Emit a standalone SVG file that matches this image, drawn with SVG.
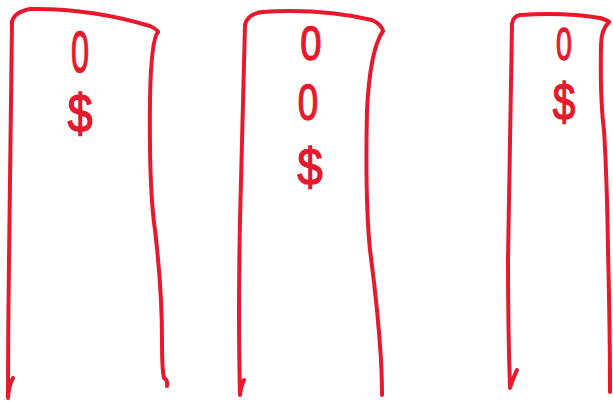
<svg xmlns="http://www.w3.org/2000/svg" width="613" height="412" viewBox="0 0 613 412">
<style>
.ln{fill:none;stroke:#e8192c;stroke-width:4;stroke-linecap:round;stroke-linejoin:round}
.t{fill:#e8192c;stroke:#e8192c;stroke-width:1.4;font-family:"Liberation Sans",Arial,sans-serif;text-anchor:middle}
</style>
<rect width="613" height="412" fill="#fff"/>
<g id="column-1">
<path class="ln" d="M12,22 Q14,12 30,9 Q90,8 150,26 Q158,30 158,32"/>
<path class="ln" d="M12,22 Q10,150 9,260 Q8,330 8,398 M8,398 Q9,385 13,378"/>
<path class="ln" d="M158,32 Q151,40 150,100 Q149,190 155,230 Q162,290 162,340 Q162,370 164,378 Q168,380 167,386"/>
<text class="t" transform="translate(80,72) scale(0.56,1)" font-size="58">0</text>
<text class="t" transform="translate(80,132) scale(0.85,1)" font-size="53">$</text>
</g>
<g id="column-2">
<path class="ln" d="M245,25 Q247,14 262,12 Q320,8 372,20 Q381,24 383,31"/>
<path class="ln" d="M245,25 Q243,120 240,220 Q238,320 240,395 Q241,386 244,380"/>
<path class="ln" d="M383,31 Q370,50 367,110 Q365,200 370,250 Q378,310 381,360 Q382,380 382,395"/>
<text class="t" transform="translate(311,60) scale(0.78,1)" font-size="49">0</text>
<text class="t" transform="translate(308,120) scale(0.75,1)" font-size="49">0</text>
<text class="t" transform="translate(310,185) scale(0.88,1)" font-size="52">$</text>
</g>
<g id="column-3">
<path class="ln" d="M512,24 Q513,16 520,15 Q565,12 600,18 Q607,20 609,22"/>
<path class="ln" d="M512,24 Q510,150 508,260 Q508,330 510,388 Q513,378 517,370"/>
<path class="ln" d="M609,22 Q601,30 601,45 Q600,100 604,130 Q607,180 608,250 Q610,330 610,392"/>
<text class="t" transform="translate(564,60) scale(0.62,1)" font-size="46">0</text>
<text class="t" transform="translate(564,120) scale(0.78,1)" font-size="52">$</text>
</g>
</svg>
